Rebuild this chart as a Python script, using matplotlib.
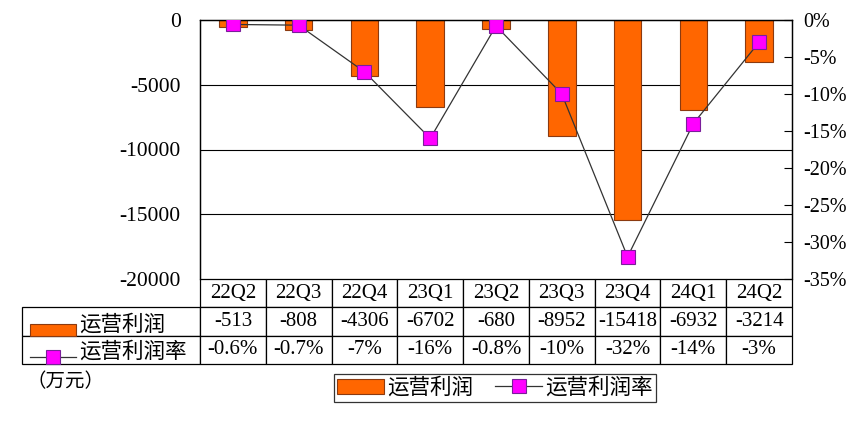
import matplotlib.pyplot as plt
import matplotlib.patches as mpatches
from matplotlib.lines import Line2D
import numpy as np

plt.rcParams['font.family'] = ['Noto Sans CJK SC', 'DejaVu Sans']

quarters = ['22Q2', '22Q3', '22Q4', '23Q1', '23Q2', '23Q3', '23Q4', '24Q1', '24Q2']
profit = [-513, -808, -4306, -6702, -680, -8952, -15418, -6932, -3214]
margin = [-0.6, -0.7, -7, -16, -0.8, -10, -32, -14, -3]
margin_labels = ['-0.6%', '-0.7%', '-7%', '-16%', '-0.8%', '-10%', '-32%', '-14%', '-3%']
left_ticks = [0, -5000, -10000, -15000, -20000]
right_ticks = [0, -5, -10, -15, -20, -25, -30, -35]

bar_color = '#FF6600'
mk_color = '#FF00FF'
serif = ['Liberation Serif', 'Noto Sans CJK SC']

W, H = 852, 422
fig = plt.figure(figsize=(W / 100, H / 100), dpi=100)
ax = fig.add_axes([200 / W, 1 - 279 / H, 592 / W, 259 / H])

x = np.arange(len(quarters))
ax.bar(x, profit, width=0.42, color=bar_color, edgecolor='#8B3A10', linewidth=0.8, zorder=2)
ax.set_xlim(-0.5, len(quarters) - 0.5)
ax.set_ylim(-20000, 0)
ax.set_yticks(left_ticks)
ax.set_yticklabels([str(t) for t in left_ticks], family=serif, fontsize=15.5)
ax.tick_params(axis='y', length=0, pad=14)
ax.set_xticks([])
for t in left_ticks[1:-1]:
    ax.axhline(t, color='black', linewidth=0.8, zorder=1)
for s in ['left', 'top', 'right']:
    ax.spines[s].set_linewidth(0.9)
ax.spines['bottom'].set_visible(False)

ax2 = ax.twinx()
ax2.plot(x, margin, color='#333333', linewidth=0.9, marker='s', markersize=10,
         markerfacecolor=mk_color, markeredgecolor='#7A1E9A', markeredgewidth=0.8, zorder=3)
ax2.set_ylim(-35, 0)
ax2.set_yticks(right_ticks)
ax2.set_yticklabels([f'{t}%' for t in right_ticks], family=serif, fontsize=14.5)
ax2.tick_params(axis='y', direction='in', length=6, width=0.8, pad=8)
ax2.spines['bottom'].set_visible(False)
for s in ['left', 'top', 'right']:
    ax2.spines[s].set_linewidth(0.9)

# data table below the plot (first column holds the row labels)
lab_w = 178 / 592
col_w = 1 / len(quarters)
rows = [[''] + quarters, [''] + [str(v) for v in profit], [''] + margin_labels]
tb_h = (364 - 279) / 259
tb = ax.table(cellText=rows, cellLoc='center', colWidths=[lab_w] + [col_w] * len(quarters),
              bbox=[-lab_w, -tb_h, 1 + lab_w, tb_h])
tb.auto_set_font_size(False)
for (r, c), cell in tb.get_celld().items():
    cell.set_linewidth(0.9)
    cell.get_text().set_fontsize(15)
    cell.get_text().set_family(serif)
tb[(0, 0)].set_edgecolor('none')
tb[(0, 0)].set_facecolor('none')
tb[(0, 0)].visible_edges = ''

# row labels with legend keys
x0 = -lab_w
def fy(py):
    return -(py - 279) / 259
ax.add_patch(mpatches.Rectangle((x0 + 8 / 592, fy(336)), 46 / 592, 12 / 259,
                                transform=ax.transAxes, clip_on=False,
                                facecolor=bar_color, edgecolor='#8B3A10', linewidth=0.8))
ax.add_line(Line2D([x0 + 8 / 592, x0 + 54 / 592], [fy(357), fy(357)], transform=ax.transAxes,
                   clip_on=False, color='#333333', linewidth=0.9))
ax.add_line(Line2D([x0 + 31 / 592], [fy(357)], transform=ax.transAxes, clip_on=False,
                   marker='s', markersize=10, markerfacecolor=mk_color,
                   markeredgecolor='#7A1E9A', markeredgewidth=0.8))
ax.text(x0 + 57 / 592, fy(325), '运营利润', transform=ax.transAxes, fontsize=15.5,
        va='center', ha='left')
ax.text(x0 + 57 / 592, fy(352), '运营利润率', transform=ax.transAxes, fontsize=15.5,
        va='center', ha='left')

fig.text(26 / W, 1 - 382 / H, '（万元）', fontsize=14, va='center', ha='left')

handles = [mpatches.Patch(facecolor=bar_color, edgecolor='#8B3A10', linewidth=0.8),
           Line2D([], [], color='#333333', linewidth=0.9, marker='s', markersize=10,
                  markerfacecolor=mk_color, markeredgecolor='#7A1E9A', markeredgewidth=0.8)]
leg = fig.legend(handles, ['运营利润', '运营利润率'], loc='center',
                 bbox_to_anchor=(495 / W, 1 - 388 / H), ncol=2, fontsize=15.5,
                 frameon=True, fancybox=False, edgecolor='black', handlelength=2.2,
                 columnspacing=1.0, handletextpad=0.15, borderpad=0.12, borderaxespad=0)
leg.get_frame().set_linewidth(0.9)

fig.savefig('out.png', dpi=100)
